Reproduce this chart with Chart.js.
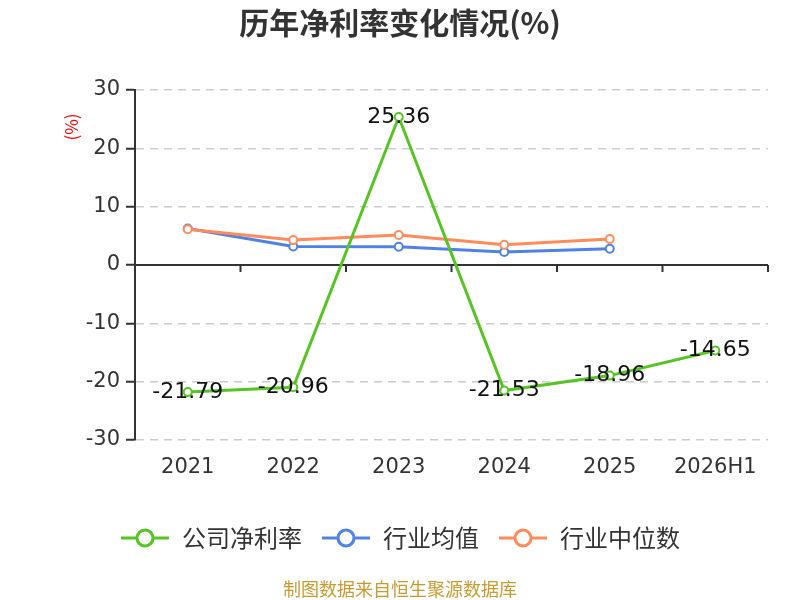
<!DOCTYPE html>
<html lang="zh">
<head>
  <meta charset="UTF-8" />
  <title>历年净利率变化情况(%)</title>
  <script src="https://cdn.jsdelivr.net/npm/chart.js"></script>
  <style>
    body { margin: 0; background: #fff; }
    #wrap { width: 800px; height: 600px; }
  </style>
</head>
<body>
  <div id="wrap"><canvas id="chart" width="800" height="600"></canvas></div>
  <script>
    const years = ['2021', '2022', '2023', '2024', '2025', '2026H1'];
    const companyRate = [-21.79, -20.96, 25.36, -21.53, -18.96, -14.65];
    const industryAvg = [6.25, 3.18, 3.12, 2.25, 2.78, null];
    const industryMedian = [6.13, 4.27, 5.14, 3.47, 4.45, null];
    const yTicks = [30, 20, 10, 0, -10, -20, -30];

    const FONT = '"Noto Sans CJK SC", "Noto Sans", sans-serif';
    const NUM_FONT = '"DejaVu Sans", "Noto Sans CJK SC", sans-serif';
    const GREEN = '#56c423', BLUE = '#4e82e6', ORANGE = '#ff8b5a';

    // legend marker: short line with a hollow circle
    function marker(color) {
      const c = document.createElement('canvas');
      c.width = 50; c.height = 20;
      const g = c.getContext('2d');
      g.strokeStyle = color; g.lineWidth = 3;
      g.beginPath(); g.moveTo(1, 10); g.lineTo(49, 10); g.stroke();
      g.fillStyle = '#fff';
      g.beginPath(); g.arc(25, 10, 8, 0, Math.PI * 2); g.fill(); g.stroke();
      return c;
    }

    const extras = {
      id: 'extras',
      beforeDatasetsDraw(chart) {
        const { ctx, chartArea: a, scales: { x, y } } = chart;
        const y0 = y.getPixelForValue(0);
        ctx.save();
        ctx.strokeStyle = '#333'; ctx.lineWidth = 2;
        ctx.beginPath(); ctx.moveTo(a.left, y0); ctx.lineTo(a.right, y0); ctx.stroke();
        const n = years.length;
        for (let i = 0; i <= n; i++) {
          const px = x.getPixelForValue(i - 0.5);
          ctx.beginPath(); ctx.moveTo(px, y0); ctx.lineTo(px, y0 + 7); ctx.stroke();
        }
        ctx.restore();
      },
      afterDraw(chart) {
        const { ctx } = chart;
        ctx.save();
        // value labels on company line
        const meta = chart.getDatasetMeta(0);
        ctx.font = '22px ' + NUM_FONT;
        ctx.fillStyle = '#111';
        ctx.textAlign = 'center';
        ctx.textBaseline = 'middle';
        meta.data.forEach((pt, i) => {
          ctx.fillText(companyRate[i].toFixed(2), pt.x, pt.y);
        });
        // y unit
        ctx.translate(72, 127);
        ctx.rotate(-Math.PI / 2);
        ctx.fillStyle = '#ff0000';
        ctx.font = '17px ' + FONT;
        ctx.fillText('(%)', 0, 0);
        ctx.restore();
        ctx.save();
        ctx.font = '18px ' + FONT;
        ctx.fillStyle = '#c99a2e';
        ctx.textAlign = 'center';
        ctx.textBaseline = 'middle';
        ctx.fillText('制图数据来自恒生聚源数据库', 400, 589);
        ctx.restore();
      }
    };

    new Chart(document.getElementById('chart'), {
      type: 'line',
      data: {
        labels: years,
        datasets: [
          { label: '公司净利率', data: companyRate, borderColor: GREEN, pointStyle: marker(GREEN), order: 0 },
          { label: '行业均值', data: industryAvg, borderColor: BLUE, pointStyle: marker(BLUE), order: 2 },
          { label: '行业中位数', data: industryMedian, borderColor: ORANGE, pointStyle: marker(ORANGE), order: 1 }
        ].map(d => Object.assign({
          borderWidth: 3,
          pointRadius: 4,
          pointBorderWidth: 2,
          pointBackgroundColor: '#fff',
          pointBorderColor: d.borderColor,
          pointHoverRadius: 4,
          tension: 0
        }, d, { pointStyle: 'circle', legendMarker: d.pointStyle }))
      },
      options: {
        responsive: false,
        animation: false,
        layout: { padding: { top: 0, left: 32, right: 32, bottom: 40 } },
        scales: {
          x: {
            offset: true,
            grid: { display: false },
            border: { display: false },
            ticks: { color: '#333', font: { size: 21, family: NUM_FONT }, padding: 7 },
            afterFit(s) { s.height = 67; }
          },
          y: {
            min: -30, max: 30,
            afterBuildTicks(s) { s.ticks = yTicks.map(v => ({ value: v })); },
            grid: { color: '#cccccc', lineWidth: 1.5, tickColor: '#333', tickLength: 9, tickWidth: 2 },
            border: { display: true, color: '#333', width: 2, dash: [8, 6] },
            ticks: { color: '#333', font: { size: 21, family: NUM_FONT }, padding: 6 },
            afterFit(s) { s.width = 103; }
          }
        },
        plugins: {
          title: {
            display: true,
            text: '历年净利率变化情况(%)',
            color: '#333',
            font: { size: 30, weight: 'bold', family: FONT },
            padding: { top: 5, bottom: 49 }
          },
          legend: {
            position: 'bottom',
            labels: {
              usePointStyle: true,
              pointStyleWidth: 50,
              boxHeight: 20,
              padding: 19,
              color: '#333',
              font: { size: 24, family: FONT },
              generateLabels(chart) {
                return chart.data.datasets.map((d, i) => ({
                  text: d.label,
                  pointStyle: d.legendMarker,
                  fillStyle: '#fff',
                  strokeStyle: d.borderColor,
                  fontColor: '#333',
                  lineWidth: 0,
                  datasetIndex: i,
                  hidden: false
                }));
              }
            }
          },
          tooltip: { enabled: false }
        }
      },
      plugins: [extras]
    });
  </script>
</body>
</html>
